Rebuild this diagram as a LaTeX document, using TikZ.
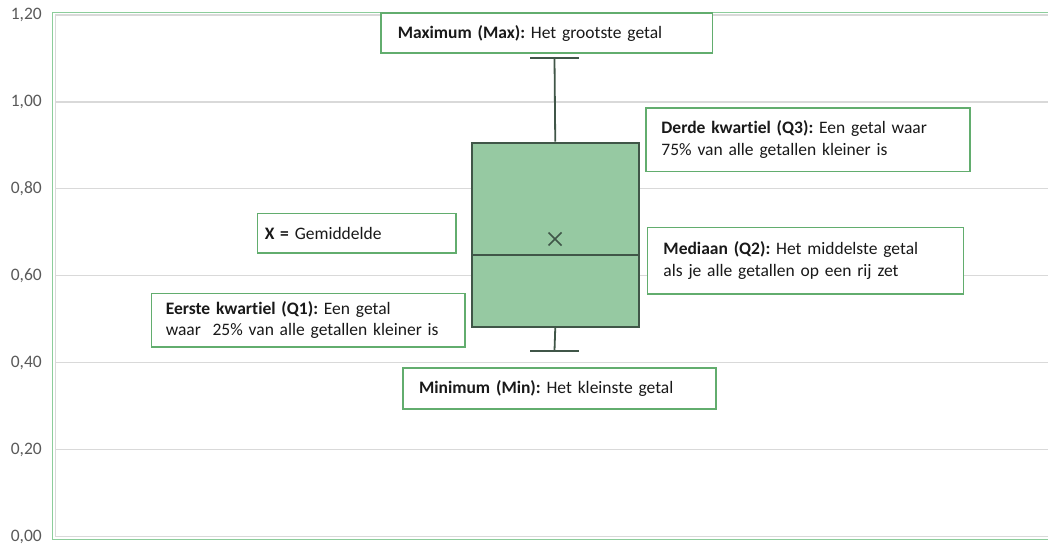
\documentclass[tikz,border=0pt]{standalone}
\usepackage{fontspec}
\setmainfont{Carlito}[Ligatures=NoCommon]
\frenchspacing
\definecolor{grid}{RGB}{217,217,217}
\definecolor{plotgreen}{RGB}{140,205,155}
\definecolor{boxfill}{RGB}{150,201,162}
\definecolor{boxdraw}{RGB}{64,86,72}
\definecolor{lblgreen}{RGB}{98,173,110}
\definecolor{axtext}{RGB}{89,89,89}
\definecolor{txt}{RGB}{25,25,25}
\tikzset{
  lbl/.style={draw=lblgreen, line width=1.5pt, fill=white, inner ysep=0pt, anchor=north west,
    font=\fontsize{17.5}{21.5}\selectfont\frenchspacing, text=txt, align=left},
  axlbl/.style={anchor=east, text=axtext, font=\fontsize{17.5}{19}\selectfont, inner sep=0pt},
  gridline/.style={draw=grid, line width=1.2pt},
  whisker/.style={draw=boxdraw, line width=1.8pt}
}
\begin{document}
\begin{tikzpicture}[x=1pt,y=-1pt]
\useasboundingbox (0,0) rectangle (1048,546);
% gridlines
\foreach \vv/\tt in {0/{0,00}, 0.2/{0,20}, 0.4/{0,40}, 0.6/{0,60}, 0.8/{0,80}, 1.0/{1,00}, 1.2/{1,20}} {
  \pgfmathsetmacro{\yy}{536.5-434.6*\vv}
  \draw[gridline] (55,\yy) -- (1048,\yy);
  \node[axlbl] at (42,\yy) {\tt};
}
\draw[draw=grid, line width=1.2pt] (55.5,15) -- (55.5,536.5);
% plot border
\draw[draw=plotgreen, line width=1.2pt] (1048,12.2) -- (52.5,12.2) -- (52.5,539.5) -- (1048,539.5);
% box plot
\coordinate (maxc) at (554.5,58.3);
\coordinate (minc) at (554.5,350.7);
\node[draw=boxdraw, line width=2pt, fill=boxfill, minimum width=166.5pt, minimum height=184.3pt, inner sep=0pt, anchor=north west] (box) at (471,141.7) {};
\draw[whisker] (maxc) -- (box.north);
\draw[whisker] (box.south) -- (minc);
\draw[whisker] ([xshift=-24.5pt]maxc) -- ([xshift=24.5pt]maxc);
\draw[whisker] ([xshift=-24.5pt]minc) -- ([xshift=24.5pt]minc);
\draw[whisker] (471,255.3) -- (637.5,255.3);
\coordinate (mean) at (555,239);
\draw[draw=boxdraw, line width=1.6pt] ([shift={(-6.5,-6.5)}]mean) -- ([shift={(6.5,6.5)}]mean)
  ([shift={(-6.5,6.5)}]mean) -- ([shift={(6.5,-6.5)}]mean);
% labels
\node[lbl, inner xsep=17pt, text width=297.7pt, minimum height=40pt] (lmax) at (380,12.3)
  {\textbf{Maximum (Max):} Het grootste getal};
\node[lbl, inner xsep=15.7pt, text width=292.6pt, minimum height=63.4pt] (lq3) at (645,107.3)
  {\textbf{Derde kwartiel (Q3):} Een getal waar\\75\% van alle getallen kleiner is};
\node[lbl, inner xsep=16pt, text width=284pt, minimum height=66.6pt] (lq2) at (646.7,226.7)
  {\textbf{Mediaan (Q2):} Het middelste getal\\als je alle getallen op een rij zet};
\node[lbl, inner xsep=7.3pt, text width=183.7pt, minimum height=39.6pt] (lx) at (256.7,212.7)
  {\textbf{X =} Gemiddelde};
\node[lbl, inner xsep=14.3pt, text width=284.7pt, minimum height=53.3pt] (lq1) at (150.7,292.7)
  {\textbf{Eerste kwartiel (Q1):} Een getal\\waar\ \ 25\% van alle getallen kleiner is};
\node[lbl, inner xsep=16pt, text width=280.7pt, minimum height=41pt] (lmin) at (402.3,367.3)
  {\textbf{Minimum (Min):} Het kleinste getal};
\end{tikzpicture}
\end{document}
